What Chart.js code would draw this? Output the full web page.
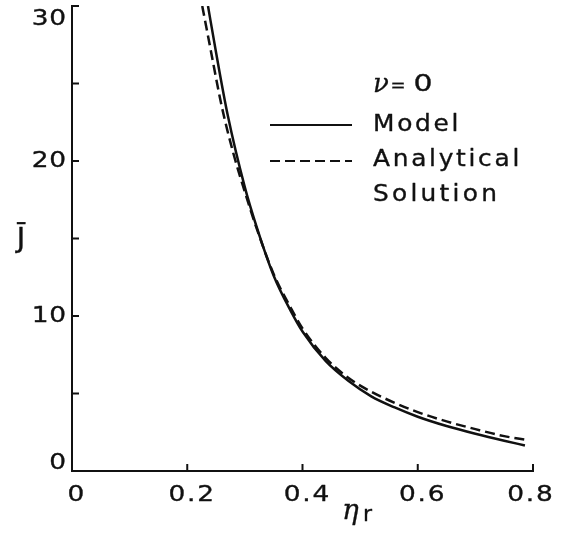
<!DOCTYPE html>
<html>
<head>
<meta charset="utf-8">
<script src="https://cdn.jsdelivr.net/npm/chart.js@4/dist/chart.umd.min.js"></script>
<style>
  html, body { margin: 0; padding: 0; background: #fff; }
  #wrap { width: 563px; height: 533px; }
</style>
</head>
<body>
<div id="wrap"><canvas id="c" width="563" height="533"></canvas></div>
<script>
// ---- data ----
const modelEta = [0.236, 0.25, 0.27, 0.30, 0.32, 0.35, 0.38, 0.40, 0.44, 0.48, 0.52, 0.56, 0.60, 0.65, 0.70, 0.75, 0.786];
const modelJ   = [30.0, 27.0, 23.0, 18.3, 15.8, 12.6, 10.3, 9.0, 7.1, 5.8, 4.8, 4.1, 3.5, 2.9, 2.4, 1.95, 1.65];
const analyticalEta = [0.226, 0.24, 0.26, 0.28, 0.30, 0.32, 0.35, 0.38, 0.40, 0.44, 0.48, 0.52, 0.56, 0.60, 0.65, 0.70, 0.75, 0.79];
const analyticalJ   = [30.0, 27.3, 23.5, 20.5, 18.0, 15.7, 12.7, 10.5, 9.2, 7.3, 6.0, 5.1, 4.4, 3.8, 3.2, 2.7, 2.25, 2.0];
const xTickValues = [0, 0.2, 0.4, 0.6, 0.8];
const xTickLabels = ['0', '0.2', '0.4', '0.6', '0.8'];
const yTickValues = [0, 5, 10, 15, 20, 25, 30];
const yTickLabels = ['0', '', '10', '', '20', '', '30'];
const seriesNames = ['Model', 'Analytical', 'Solution'];
const legendTitle = ['\u03BD', '=', '0'];
const xTitle = ['\u03B7', 'r'];
const yTitle = 'J\u0304';

const INK = '#111';

function txt(ctx, s, x, y, font, sx, ls, align, weight) {
  ctx.save();
  ctx.font = font;
  try { ctx.letterSpacing = ls + 'px'; } catch (e) {}
  const w = (ctx.measureText(s).width - ls) * sx;
  let x0 = align === 'center' ? x - w / 2 : (align === 'right' ? x - w : x);
  ctx.translate(x0, y);
  ctx.scale(sx, 1);
  ctx.textAlign = 'left';
  ctx.textBaseline = 'middle';
  ctx.fillStyle = INK;
  ctx.strokeStyle = INK;
  ctx.lineWidth = weight == null ? 0.35 : weight;
  ctx.lineJoin = 'round';
  ctx.fillText(s, 0, 0);
  if (ctx.lineWidth > 0) ctx.strokeText(s, 0, 0);
  ctx.restore();
}

const axesPlugin = {
  id: 'axesPlugin',
  afterDraw(chart) {
    const ctx = chart.ctx;
    const xs = chart.scales.x, ys = chart.scales.y;
    const x0 = xs.getPixelForValue(0), y0 = ys.getPixelForValue(0);
    const xMax = xs.getPixelForValue(0.8), yMax = ys.getPixelForValue(30);
    ctx.save();
    ctx.strokeStyle = INK;
    ctx.lineWidth = 2;
    ctx.lineCap = 'square';
    // axis lines
    ctx.beginPath();
    ctx.moveTo(x0, yMax);
    ctx.lineTo(x0, y0);
    ctx.lineTo(xMax, y0);
    ctx.stroke();
    // y ticks (inward)
    yTickValues.forEach(v => {
      if (v === 0) return;
      const py = ys.getPixelForValue(v);
      ctx.beginPath(); ctx.moveTo(x0, py); ctx.lineTo(x0 + 6, py); ctx.stroke();
    });
    // x ticks (inward)
    xTickValues.forEach(v => {
      if (v === 0) return;
      const px = xs.getPixelForValue(v);
      ctx.beginPath(); ctx.moveTo(px, y0); ctx.lineTo(px, y0 - 6); ctx.stroke();
    });
    // y labels
    yTickValues.forEach((v, i) => {
      const lab = yTickLabels[i];
      if (!lab) return;
      let py = ys.getPixelForValue(v);
      if (v === 0) py -= 8;
      if (v === 30) py += 13;
      txt(ctx, lab, x0 - 6, py, '22px "DejaVu Sans"', 1.2, 0.5, 'right');
    });
    // x labels
    xTickValues.forEach((v, i) => {
      const px = xs.getPixelForValue(v) + (i === xTickValues.length - 1 ? -3 : 4);
      txt(ctx, xTickLabels[i], px, y0 + 24, '22px "DejaVu Sans"', 1.2, 1.5, 'center');
    });
    // axis titles
    txt(ctx, xTitle[0], 342, 512, 'italic 28px "DejaVu Serif"', 1.0, 0, 'left', 0.3);
    txt(ctx, xTitle[1], 363, 515, '22px "DejaVu Sans"', 1.0, 0, 'left');
    txt(ctx, yTitle, 21, 240, '26px "DejaVu Sans"', 1.1, 0, 'center');
    // legend
    txt(ctx, legendTitle[0], 373, 85, 'italic 26px "DejaVu Serif"', 1.0, 0, 'left', 0.3);
    txt(ctx, legendTitle[1], 398, 86, '18px "DejaVu Sans"', 1.0, 0, 'center');
    txt(ctx, legendTitle[2], 423, 85, '23px "DejaVu Sans"', 1.3, 0, 'center');
    ctx.lineCap = 'butt';
    ctx.beginPath(); ctx.moveTo(270, 125); ctx.lineTo(352, 125); ctx.stroke();
    ctx.setLineDash([10, 5]);
    ctx.beginPath(); ctx.moveTo(270, 161); ctx.lineTo(352, 161); ctx.stroke();
    ctx.setLineDash([]);
    txt(ctx, seriesNames[0], 373, 125, '23px "DejaVu Sans"', 1.08, 2.5, 'left');
    txt(ctx, seriesNames[1], 373, 160, '23px "DejaVu Sans"', 1.08, 2.5, 'left');
    txt(ctx, seriesNames[2], 373, 195, '23px "DejaVu Sans"', 1.08, 3, 'left');
    ctx.restore();
  }
};

const toPts = (xs, ys) => xs.map((x, i) => ({ x: x, y: ys[i] }));

new Chart(document.getElementById('c'), {
  type: 'scatter',
  data: {
    datasets: [
      {
        label: 'Model',
        data: toPts(modelEta, modelJ),
        showLine: true,
        borderColor: INK,
        borderWidth: 2.5,
        pointRadius: 0,
        cubicInterpolationMode: 'monotone',
        fill: false
      },
      {
        label: 'Analytical Solution',
        data: toPts(analyticalEta, analyticalJ),
        showLine: true,
        borderColor: INK,
        borderWidth: 2.5,
        borderDash: [10, 5],
        pointRadius: 0,
        cubicInterpolationMode: 'monotone',
        fill: false
      }
    ]
  },
  options: {
    responsive: false,
    animation: false,
    devicePixelRatio: 1,
    layout: { padding: { left: 72, right: 30, top: 6, bottom: 62 } },
    plugins: { legend: { display: false }, tooltip: { enabled: false } },
    scales: {
      x: { type: 'linear', min: 0, max: 0.8, display: false },
      y: { type: 'linear', min: 0, max: 30, display: false }
    }
  },
  plugins: [axesPlugin]
});
</script>
</body>
</html>
